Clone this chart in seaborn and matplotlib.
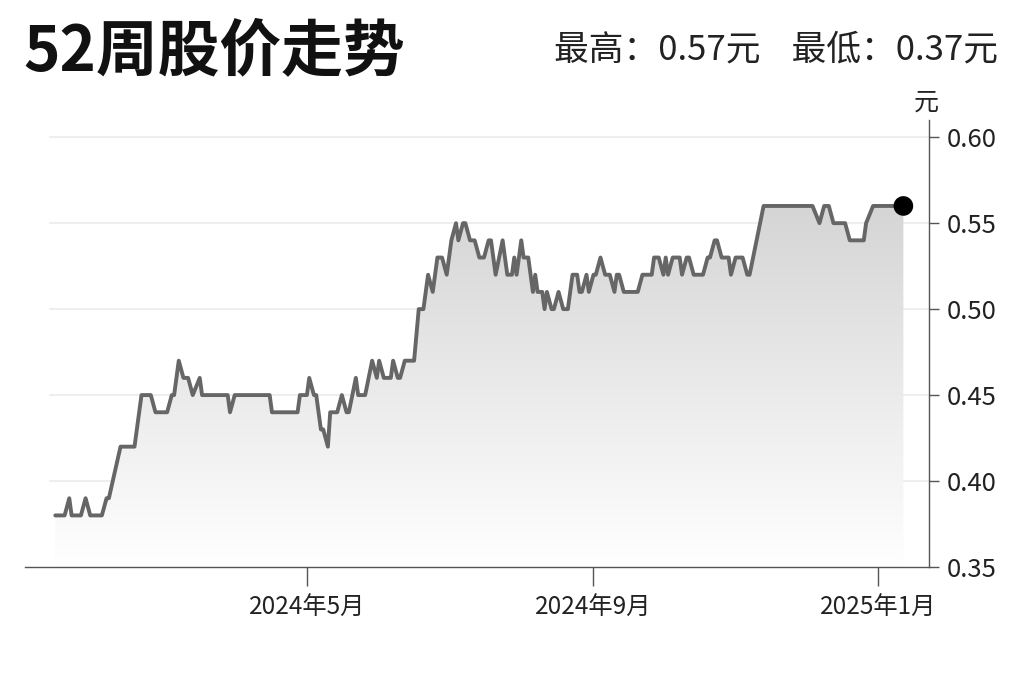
import numpy as np
import pandas as pd
import matplotlib
matplotlib.use("Agg")
import matplotlib.pyplot as plt
import matplotlib.dates as mdates
from matplotlib.patches import Polygon
from matplotlib.colors import LinearSegmentedColormap
from matplotlib.ticker import FormatStrFormatter
import seaborn as sns

# price path: day number counted from start_date, close price
start_date = "2024-01-01"
day = [13, 17, 19, 20, 24, 26, 28, 33, 35, 36, 41, 47, 48, 50, 54, 56, 61, 63, 64, 66,
       68, 70, 72, 75, 76, 87, 88, 90, 105, 106, 117, 118, 121, 122, 124, 125, 127, 128, 130, 131,
       134, 136, 138, 139, 142, 143, 146, 149, 151, 152, 154, 157, 158, 160, 161, 163, 167, 169, 171, 173,
       175, 177, 179, 181, 183, 185, 186, 188, 189, 191, 193, 195, 197, 199, 200, 202, 205, 207, 209, 210,
       211, 213, 214, 216, 218, 219, 220, 222, 223, 224, 226, 227, 229, 231, 233, 235, 237, 238, 239, 241,
       242, 244, 245, 247, 249, 251, 253, 254, 255, 257, 263, 265, 269, 270, 272, 274, 275, 276, 278, 281,
       282, 284, 285, 287, 291, 293, 294, 296, 297, 299, 302, 303, 305, 308, 310, 311, 317, 338, 341, 343,
       345, 347, 352, 354, 360, 361, 364, 377]
price = [0.38, 0.38, 0.39, 0.38, 0.38, 0.39, 0.38, 0.38, 0.39, 0.39, 0.42, 0.42, 0.43, 0.45, 0.45, 0.44, 0.44, 0.45, 0.45, 0.47,
         0.46, 0.46, 0.45, 0.46, 0.45, 0.45, 0.44, 0.45, 0.45, 0.44, 0.44, 0.45, 0.45, 0.46, 0.45, 0.45, 0.43, 0.43, 0.42, 0.44,
         0.44, 0.45, 0.44, 0.44, 0.46, 0.45, 0.45, 0.47, 0.46, 0.47, 0.46, 0.46, 0.47, 0.46, 0.46, 0.47, 0.47, 0.50, 0.50, 0.52,
         0.51, 0.53, 0.53, 0.52, 0.54, 0.55, 0.54, 0.55, 0.55, 0.54, 0.54, 0.53, 0.53, 0.54, 0.54, 0.52, 0.54, 0.52, 0.52, 0.53,
         0.52, 0.54, 0.53, 0.53, 0.51, 0.52, 0.51, 0.51, 0.50, 0.51, 0.50, 0.50, 0.51, 0.50, 0.50, 0.52, 0.52, 0.51, 0.51, 0.52,
         0.51, 0.52, 0.52, 0.53, 0.52, 0.52, 0.51, 0.52, 0.52, 0.51, 0.51, 0.52, 0.52, 0.53, 0.53, 0.52, 0.53, 0.52, 0.53, 0.53,
         0.52, 0.53, 0.53, 0.52, 0.52, 0.53, 0.53, 0.54, 0.54, 0.53, 0.53, 0.52, 0.53, 0.53, 0.52, 0.52, 0.56, 0.56, 0.55, 0.56,
         0.56, 0.55, 0.55, 0.54, 0.54, 0.55, 0.56, 0.56]

high_price = 0.57
low_price = 0.37
y_ticks = [0.35, 0.40, 0.45, 0.50, 0.55, 0.60]
x_ticks = ["2024-05-01", "2024-09-01", "2025-01-01"]
x_tick_labels = ["2024年5月", "2024年9月", "2025年1月"]
x_range = ["2024-01-01", "2025-01-23"]

sns.set_style("white")
plt.rcParams["font.family"] = ["Noto Sans CJK SC", "DejaVu Sans"]

df = pd.DataFrame({"date": pd.to_datetime(start_date) + pd.to_timedelta(day, unit="D"),
                   "price": price})

fig = plt.figure(figsize=(10.24, 6.82), dpi=100)
ax = fig.add_axes([25 / 1024, 1 - 567 / 682, (929 - 25) / 1024, (567 - 120) / 682])

sns.lineplot(data=df, x="date", y="price", ax=ax, color="#666666", linewidth=2.8, zorder=3)

# gradient fill under the line
xnum = mdates.date2num(df["date"])
verts = np.column_stack([np.r_[xnum[0], xnum, xnum[-1]], np.r_[0.35, df["price"], 0.35]])
poly = Polygon(verts, closed=True, facecolor="none", edgecolor="none")
ax.add_patch(poly)
cmap = LinearSegmentedColormap.from_list("fade", ["#ffffff", "#d3d3d3"])
grad = np.linspace(1, 0, 256).reshape(-1, 1)
im = ax.imshow(grad, extent=[xnum[0], xnum[-1], 0.35, 0.57], aspect="auto",
               cmap=cmap, origin="upper", zorder=1)
im.set_clip_path(poly)

last = df.iloc[[-1]]
sns.scatterplot(data=last, x="date", y="price", ax=ax, color="black", s=200,
                edgecolor="none", zorder=5, clip_on=False)

for v in y_ticks[1:]:
    ax.axhline(v, xmin=0.028, xmax=1, color="#eeeeee", lw=1.5, zorder=0)

ax.set_xlim(pd.to_datetime(x_range[0]), pd.to_datetime(x_range[1]))
ax.set_ylim(0.35, 0.61)

ax.yaxis.tick_right()
ax.set_yticks(y_ticks)
ax.yaxis.set_major_formatter(FormatStrFormatter("%.2f"))
ax.set_xticks(pd.to_datetime(x_ticks))
ax.set_xticklabels(x_tick_labels)
ax.set_xlabel("")
ax.set_ylabel("")

for s in ["top", "left"]:
    ax.spines[s].set_visible(False)
for s in ["right", "bottom"]:
    ax.spines[s].set_color("#555555")
    ax.spines[s].set_linewidth(1.0)

ax.tick_params(axis="y", direction="out", length=7, width=1, color="#555555",
               labelsize=18.5, pad=6, labelcolor="#222222", right=True, left=False)
ax.tick_params(axis="x", direction="out", length=14, width=1, color="#555555",
               labelsize=17.5, pad=6, labelcolor="#222222", bottom=True)

fig.text(926 / 1024, 1 - 103 / 682, "元", ha="center", va="center", fontsize=18, color="#222222")
fig.text(23 / 1024, 1 - 52 / 682, "52周股价走势", ha="left", va="center",
         fontsize=44.5, fontweight="bold", color="#111111")
fig.text(998 / 1024, 1 - 50 / 682, f"最高：{high_price:.2f}元    最低：{low_price:.2f}元",
         ha="right", va="center", fontsize=25, color="#222222")

fig.savefig("out.png", dpi=100, facecolor="white")
